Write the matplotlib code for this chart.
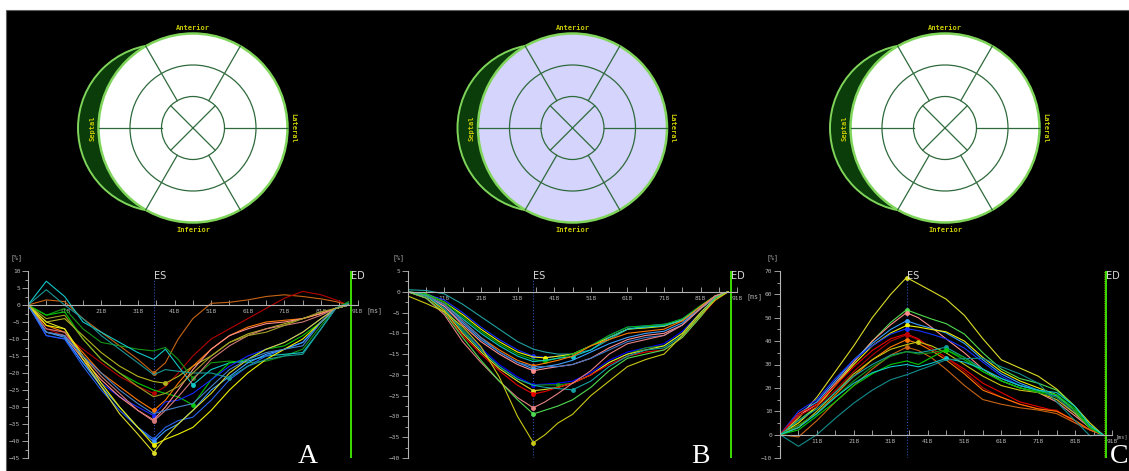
import matplotlib.pyplot as plt
from matplotlib.patches import Circle, Rectangle
from matplotlib.ticker import FixedLocator, MultipleLocator

W, H = 1129, 471

# sample times (ms) shared by all strain curves
times = [18, 68, 118, 168, 218, 268, 318, 361, 393, 428, 468, 518, 568, 618, 668, 718, 768, 818, 858, 893]
es_time = 361
ed_time = 901
x_major = [118, 218, 318, 418, 518, 618, 718, 818, 918]
x_minor = [68, 168, 268, 368, 468, 568, 668, 768, 868]
x_labels = ['118', '218', '318', '418', '518', '618', '718', '818', '918']

# panel A (longitudinal strain, %)
a_colors = ['#c86414', '#b40000', '#b4b41e', '#149614', '#10c8c8', '#00c800', '#ff7800', '#1428ff',
            '#ff8c8c', '#d27878', '#2864f0', '#3ca0ff', '#f0f000', '#dcdc28', '#1a9696', '#4682c8', '#a0a028']
a_peak = [7, 7, 8, 10, 10, 10, 7, 7, 7, 7, 7, 7, 7, 7, 12, None, None]
a_values = [
    [0, 1.5, 1, -4, -8, -12, -16, -20, -17, -10, -4, 0.5, 0.8, 1.5, 2.5, 3, 2.5, 1.8, 1, 0],
    [0, -7, -9, -13, -17, -21, -24, -26, -24, -20, -15, -10, -7, -4, -1, 2, 4, 3, 1.5, 0],
    [0, -5, -4, -9, -14, -18, -21, -22.5, -23, -21, -18, -15, -11, -8.5, -7, -5.5, -4, -2.5, -1, 0],
    [0, -3, -1, -7, -11, -12, -13, -13.5, -12.5, -16, -21.5, -17, -16.5, -17, -16.5, -15, -13, -6, -1, 1],
    [0, 7, 2.5, -5, -8, -11, -14, -16, -13, -18, -23.5, -19, -17, -16.5, -15, -14.5, -14, -7, -1, 0.5],
    [0, -3, -2, -10, -16, -20, -23, -25, -26, -27, -29.4, -22, -17, -16, -13, -12, -9, -5, -1, 0.5],
    [0, -6, -8, -14, -20, -24, -28, -31, -28, -23, -18, -13, -9, -6.5, -5, -4.5, -4, -2.5, -1, 0],
    [0, -9, -10, -17, -23, -27, -30, -32.5, -28.5, -28, -26, -22, -18, -15, -13, -11, -8, -4, -1, 0],
    [0, -8, -9, -16, -22, -27, -31, -33.8, -30, -25, -19, -13, -9, -7, -5.5, -5, -4, -2.5, -1, 0],
    [0, -7, -8, -15, -21, -26, -31, -34.2, -31, -27, -22, -16, -12, -9, -7, -6, -5, -3, -1, 0],
    [0, -9, -10, -18, -25, -31, -36, -39.4, -36, -34, -33, -28, -22, -18, -15, -13, -11, -5, -1, 0],
    [0, -8, -9.5, -17, -24, -30, -36, -40.2, -37, -35, -31, -25, -21, -17, -14.5, -13, -11, -5, -1, 0],
    [0, -6, -7, -15, -23, -30, -36, -41.2, -39.5, -38, -36, -31, -25, -20, -16, -13, -10, -5, -1, 0],
    [0, -5, -7, -16, -24, -32, -38, -43.4, -39, -35, -31, -26, -20, -16, -13, -11, -8, -4, -1, 0],
    [0, 4.5, 0, -4, -9, -13, -17, -20.5, -19, -19.5, -20, -20, -21.4, -18, -16, -15, -14.5, -7, -1, 0.5],
    [0, -8, -9, -15, -20, -25, -29, -32, -31, -30, -29, -24, -19, -16, -14, -13, -12, -5, -1, 0],
    [0, -4, -3, -10, -16, -20, -24, -27, -26, -24, -20, -15, -11, -9, -8, -6, -4, -2, -1, 0],
]

# panel B
b_colors = ['#20a0a0', '#1432ff', '#f0f000', '#00b400', '#10c8c8', '#ff7800', '#3ca0ff', '#ff8c8c',
            '#3c78c8', '#0000ff', '#189618', '#dcdc28', '#e60000', '#14a0a0', '#e68282', '#50dc50', '#c8c814']
b_peak = [None, 7, 8, 8, 10, 7, 7, 7, None, 7, 9, 7, 7, 10, 7, 7, 7]
b_values = [
    [0.5, 0.3, -0.5, -3, -6, -9, -12, -13.8, -14.5, -15, -15, -14, -11.5, -9, -8.2, -7.8, -7, -4, -1.5, 0],
    [0, -0.5, -2, -5, -8.5, -11.5, -14, -15.5, -15.8, -15.5, -15, -13, -10.5, -8.5, -8.2, -8, -6.5, -3.5, -1, 0],
    [0, -0.5, -2.5, -5.5, -9, -12, -14.5, -15.7, -15.9, -15.5, -15, -13, -11, -9, -8.7, -8.3, -6.8, -3.5, -1, 0],
    [0, -0.5, -2.5, -6, -9.5, -12.5, -15, -16.3, -16.7, -16, -15, -13, -10.5, -8.5, -8.2, -7.9, -6.5, -3.3, -1, 0],
    [0, -0.8, -3, -6.5, -10, -13, -15.5, -16.8, -16.5, -16, -15.6, -14, -11, -9, -8.5, -8.2, -6.8, -3.5, -1, 0],
    [0, -1, -3, -7, -11, -14, -16.5, -17.8, -17.2, -16.5, -15.5, -13, -11.5, -10, -9.5, -9, -7, -3.5, -1, 0],
    [0, -1, -3.5, -7.5, -11.5, -14.5, -17, -18.6, -18, -17.5, -16.5, -14.5, -12.5, -11, -10, -9.5, -7.5, -4, -1.2, 0],
    [0, -1, -3.5, -8, -12, -15, -17.5, -19, -18.5, -18, -17.5, -16, -13.5, -11.5, -10.5, -10, -8, -4, -1.2, 0],
    [0, -1, -3, -7, -11, -14.5, -17, -18, -18, -18, -17.5, -16, -14, -12, -11, -10.5, -8, -4, -1.2, 0],
    [0, -1, -4, -9, -13.5, -17.5, -20.5, -22.4, -22.2, -22, -21.5, -19.5, -16.5, -14.5, -13.5, -12.5, -9.5, -5, -1.5, 0],
    [0, -1, -4, -9, -14, -18, -21, -22.5, -22.4, -22.4, -22, -20, -17, -15, -13.5, -13, -10, -5, -1.5, 0],
    [0, -1, -4.5, -10, -14.5, -18.5, -21.5, -23.8, -23.5, -23, -22, -20, -17, -15, -14, -13, -10, -5, -1.5, 0],
    [0, -1.5, -5, -10.5, -15, -19, -22.5, -24.6, -24, -23, -22, -20, -17.5, -15.5, -14.5, -14, -11, -6, -2, 0],
    [0, -1, -4, -9.5, -14, -18, -21, -22.5, -23, -23.3, -23.6, -21.5, -18, -15.5, -14, -13.5, -10.5, -5.5, -1.5, 0],
    [0, -1.5, -5.5, -12, -17, -21.5, -25.5, -27.9, -26.5, -24.5, -22, -19, -15, -12.5, -11.5, -10.5, -8, -4, -1, 0],
    [0, -1.5, -5, -11, -16.5, -21.5, -26, -29.4, -28.5, -27.5, -26, -23, -19, -16, -15, -14, -11, -6, -1.5, 0],
    [-1, -2.8, -4.8, -8.4, -13.2, -20.5, -30, -36.3, -34.4, -31.6, -29.5, -25, -21.5, -18, -16.3, -15, -10.5, -5.5, -2, 0],
]

# panel C
c_colors = ['#dcdc28', '#50dc50', '#ff8c8c', '#3ca0ff', '#f0f000', '#1432ff', '#e60000', '#b40000',
            '#ff7800', '#c8c814', '#c86414', '#14a0a0', '#189618', '#00c800', '#10c8c8', '#128c8c']
c_peak = [7, 7, 7, 7, 7, 7, 7, 7, 7, 8, 7, 10, 10, 10, 10, None]
c_values = [
    [0, 7, 16, 27, 38, 50, 60, 67.2, 64.5, 61.5, 58, 51, 41, 32, 28.5, 25, 19.5, 12, 5, 0],
    [0, 6, 12, 21, 31, 40, 48, 53.4, 51.5, 49.5, 47.5, 43, 35, 28, 24, 22, 19, 12, 4, 0],
    [0, 8, 13, 22, 31, 40, 47, 52.2, 50, 46, 41, 35, 28, 23, 20, 18, 14, 8, 3, 0],
    [0, 9, 14, 23, 32, 39, 45, 48.7, 47, 45.5, 43.5, 39, 32, 26, 22, 19, 16.5, 10, 3, 0],
    [0, 5, 12, 21, 30, 38, 43.5, 46.7, 46, 45, 44, 40, 33, 27, 23, 20, 17, 10, 3, 0],
    [0, 10, 15, 24, 32, 38, 43, 45.3, 44.5, 43, 41, 37, 31, 25, 21, 19, 16, 9, 3, 0],
    [0, 9, 13, 21, 29, 36, 41, 43.1, 41, 37, 33, 28, 22, 18, 14, 12, 10, 6, 2, 0],
    [0, 8, 12, 19, 27, 34, 40, 42.7, 40.5, 37, 33, 27, 20, 16, 13, 11, 10.5, 5, 2, 0],
    [0, 4, 9, 17, 25, 32, 37.5, 40.6, 39, 36, 32, 26, 19, 16, 13, 11, 10, 6, 2, 0],
    [0, 3, 10, 18, 26, 32, 36.5, 38.5, 39.7, 38, 35, 30, 25, 21, 19, 18, 15, 9, 3, 0],
    [0, -1, 6, 14, 21, 28, 34, 37.4, 36, 33, 28, 21, 15, 13, 11.5, 10.5, 9, 5, 2, 0],
    [0, 6, 11, 18, 25, 30, 34, 35.5, 35, 36, 37.4, 33, 28, 24, 21, 19, 17, 10, 3, 0],
    [0, 4, 9, 16, 23, 29, 33.5, 35.5, 34.5, 35, 36.3, 33, 27, 23, 20, 18, 16, 10, 3, 0],
    [0, 2, 8, 14, 21, 26, 30, 31.5, 30, 33, 36.3, 32, 27, 23, 20, 18.5, 17, 11, 3, 0],
    [0, 3, 9, 16, 22, 26.5, 29, 30, 29, 30.5, 32.6, 31, 28, 24, 21, 19, 18, 12, 4, 0],
    [0, -5, 0, 7, 13.5, 19, 23.5, 25.6, 27.5, 29.5, 32, 32.5, 32.7, 29, 26, 22, 14, 6, -0.5, 0],
]

fig = plt.figure(figsize=(W / 100, H / 100), dpi=100, facecolor='white')

# background axes in pixel units (y down)
bg = fig.add_axes([0, 0, 1, 1])
bg.set_xlim(0, W)
bg.set_ylim(H, 0)
bg.axis('off')
bg.add_patch(Rectangle((6, 10), W - 6, H - 10, facecolor='black', edgecolor='#606060', lw=0.8))


def px_axes(x0, y0, x1, y1):
    return fig.add_axes([x0 / W, 1 - y1 / H, (x1 - x0) / W, (y1 - y0) / H])


def bullseye(cx, cy, fill):
    r = 94.5
    edge = '#7fd45a'
    line = '#2f6a3c'
    bg.add_patch(Circle((cx - 31.3, cy), 83.7, fc='#0b3d0b', ec=edge, lw=1.4))
    bg.add_patch(Circle((cx, cy), r, fc=fill, ec=edge, lw=1.8))
    for rr in [r / 3, 2 * r / 3]:
        bg.add_patch(Circle((cx, cy), rr, fc='none', ec=line, lw=0.9))
    # spokes of the outer two rings
    for dx, dy in [(1, 0), (-1, 0), (0.5, 0.866), (-0.5, 0.866), (0.5, -0.866), (-0.5, -0.866)]:
        bg.plot([cx + dx * r / 3, cx + dx * r], [cy + dy * r / 3, cy + dy * r], color=line, lw=0.9)
    # apical X
    for dx, dy in [(0.7071, 0.7071), (0.7071, -0.7071)]:
        bg.plot([cx - dx * r / 3, cx + dx * r / 3], [cy - dy * r / 3, cy + dy * r / 3], color=line, lw=0.9)
    lab = dict(color='#c8c800', fontsize=5, family='DejaVu Sans Mono', fontweight='bold', ha='center', va='center')
    bg.text(cx, cy - 100, 'Anterior', **lab)
    bg.text(cx, cy + 102, 'Inferior', **lab)
    bg.text(cx - 101, cy, 'Septal', rotation=90, **lab)
    bg.text(cx + 100, cy, 'Lateral', rotation=-90, **lab)


bullseye(193, 128, 'white')
bullseye(572.5, 128, '#d4d4fc')
bullseye(945, 128, 'white')

gray = '#b4b4b4'


def strain_panel(x0, x1, ylo, yhi, ystep, values, colors, peaks):
    ax = px_axes(x0, 271, x1, 458)
    ax.set_facecolor('none')
    ax.set_xlim(18, 918)
    ax.set_ylim(ylo, yhi)
    for s in ['top', 'right']:
        ax.spines[s].set_visible(False)
    ax.spines['left'].set_color(gray)
    ax.spines['left'].set_linewidth(0.8)
    ax.spines['bottom'].set_position(('data', 0))
    ax.spines['bottom'].set_color(gray)
    ax.spines['bottom'].set_linewidth(0.8)
    ax.yaxis.set_major_locator(MultipleLocator(ystep))
    ax.yaxis.set_minor_locator(MultipleLocator(ystep / 2))
    ax.xaxis.set_major_locator(FixedLocator(x_major))
    ax.xaxis.set_minor_locator(FixedLocator(x_minor))
    ax.set_xticklabels(x_labels)
    ax.tick_params(axis='y', which='major', direction='out', length=4, width=0.6, color=gray,
                   labelsize=4.5, labelcolor=gray, pad=1.5)
    ax.tick_params(axis='y', which='minor', direction='out', length=2.5, width=0.6, color=gray)
    ax.tick_params(axis='x', which='both', direction='in', length=3.5, width=0.6, color=gray,
                   labelsize=4.5, labelcolor=gray, pad=3)
    for lbl in ax.get_xticklabels() + ax.get_yticklabels():
        lbl.set_family('DejaVu Sans Mono')
    ax.axvline(es_time, ymax=0.95, color='#2850b4', ls=':', lw=0.8)
    ax.axvline(ed_time - 4, color='#a0a000', ls=':', lw=0.6)
    ax.axvline(ed_time, color='#3cdc00', lw=1.4)
    for vals, col, pk in zip(values, colors, peaks):
        ax.plot(times, vals, color=col, lw=0.8, solid_joinstyle='round')
        if pk is not None:
            ax.plot(times[pk], vals[pk], 'o', color=col, ms=3.5, mec='none')
    tr = ax.get_xaxis_transform()
    ax.text(es_time, 1.0, 'ES', transform=tr, color='#d8d8d8', fontsize=7, ha='left', va='top')
    ax.text(ed_time, 1.0, 'ED', transform=tr, color='#d8d8d8', fontsize=7, ha='left', va='top')
    return ax


strain_panel(28, 357.7, -45, 10, 5, a_values, a_colors, a_peak)
strain_panel(407.7, 737.3, -40, 5, 5, b_values, b_colors, b_peak)
strain_panel(780, 1112, -10, 70, 10, c_values, c_colors, c_peak)

unit = dict(color=gray, fontsize=4.8, family='DejaVu Sans Mono', va='center')
for x, y in [(17, 258), (399, 258), (772, 258)]:
    bg.text(x, y, '[%]', ha='center', **unit)
for x, y in [(366, 311), (746, 297)]:
    bg.text(x, y, '[ms]', ha='left', **unit)
bg.text(1116, 437, '[ms]', ha='left', color=gray, fontsize=3.8, family='DejaVu Sans Mono', va='center')

for x, letter in [(308, 'A'), (700, 'B'), (1119, 'C')]:
    bg.text(x, 463, letter, color='white', fontsize=20, family='Liberation Serif',
            ha='center', va='baseline')

fig.savefig('out.png', dpi=100, facecolor='white')
